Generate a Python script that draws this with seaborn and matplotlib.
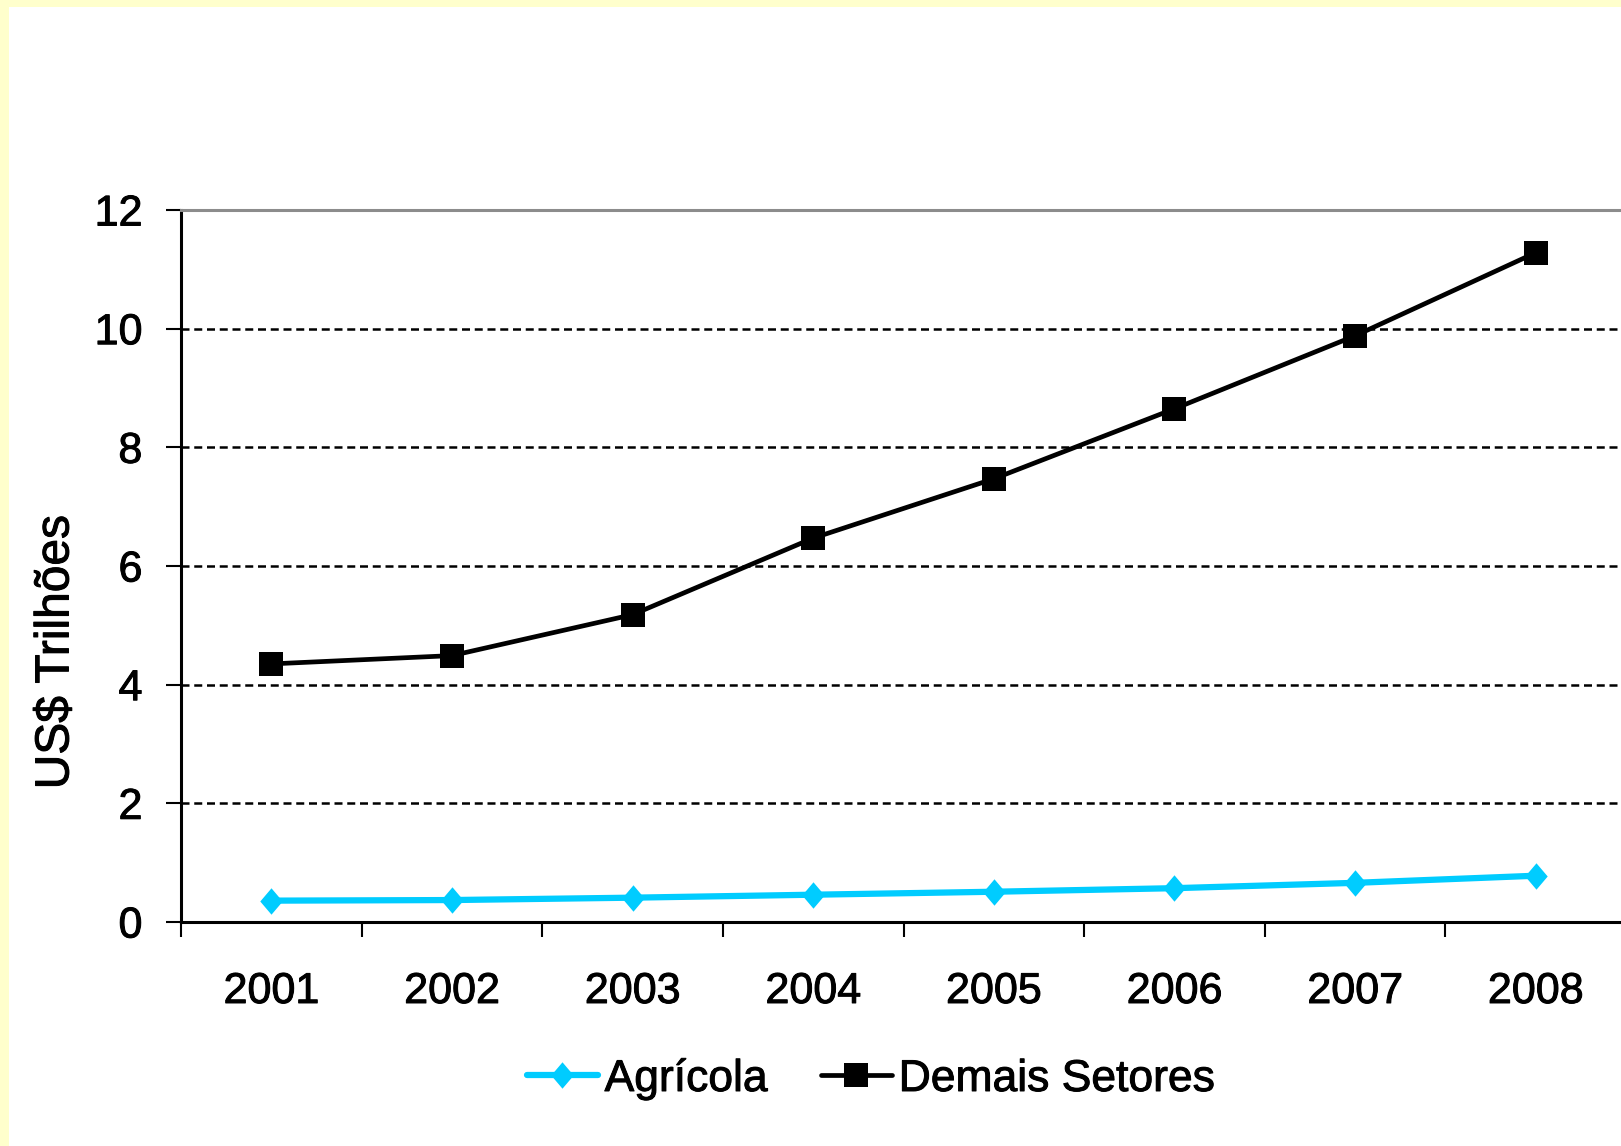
import matplotlib
matplotlib.use('Agg')
import matplotlib.pyplot as plt
import matplotlib.patheffects as pe
import seaborn as sns
import pandas as pd
import numpy as np
from matplotlib.patches import Rectangle
from matplotlib.path import Path

# ---- data ----
years = [2001, 2002, 2003, 2004, 2005, 2006, 2007, 2008]
agricola = [0.36, 0.37, 0.41, 0.46, 0.51, 0.57, 0.66, 0.78]
demais = [4.35, 4.49, 5.18, 6.47, 7.47, 8.65, 9.88, 11.28]
series_names = ['Agrícola', 'Demais Setores']
y_ticks = [0, 2, 4, 6, 8, 10, 12]
y_label = 'US$ Trilhões'

df = pd.DataFrame({
    'Ano': years + years,
    'Valor': agricola + demais,
    'Setor': [series_names[0]] * len(years) + [series_names[1]] * len(years),
})

sns.set_theme(style='white')
plt.rcParams['font.family'] = ['Liberation Sans', 'DejaVu Sans']
plt.rcParams['text.color'] = 'black'

W, H = 1621, 1146
fig = plt.figure(figsize=(W / 100, H / 100), dpi=100, facecolor='#FFFFCC')
fig.add_artist(Rectangle((9 / W, 0), 1, 1 - 7 / H, transform=fig.transFigure,
                         facecolor='white', edgecolor='none', zorder=-10))

ax = fig.add_axes([181 / W, 1 - 922 / H, 1445 / W, 712 / H])
ax.set_facecolor('white')

diamond = Path([(0, 1), (0.85, 0), (0, -1), (-0.85, 0), (0, 1)], closed=True)
styles = {
    'Agrícola': dict(color='#00CCFF', marker=diamond, markersize=19, linewidth=4.5),
    'Demais Setores': dict(color='#000000', marker='s', markersize=17, linewidth=3.4),
}

handles = []
for name in series_names:
    st = styles[name]
    sub = df[df['Setor'] == name]
    sns.lineplot(data=sub, x='Ano', y='Valor', ax=ax, color=st['color'],
                 marker=st['marker'], markersize=st['markersize'],
                 linewidth=st['linewidth'], markeredgecolor=st['color'],
                 markeredgewidth=0, errorbar=None, legend=False, zorder=3)
    handles.append(ax.lines[-1])

# axes limits & ticks
ax.set_xlim(years[0] - 0.5, years[-1] + 0.5)
ax.set_ylim(y_ticks[0], y_ticks[-1])
ax.set_yticks(y_ticks)
ax.set_yticklabels([str(t) for t in y_ticks])
ax.set_xticks(np.arange(years[0] - 0.5, years[-1] + 1.0, 1.0))
ax.set_xticklabels([])
ax.set_xticks(years, minor=True)
ax.set_xticklabels([str(y) for y in years], minor=True)

ax.tick_params(axis='y', which='major', left=True, direction='out', length=10.8,
               width=1.5, color='black', pad=17, labelsize=31, labelcolor='black')
ax.tick_params(axis='x', which='major', bottom=True, direction='out', length=10.8,
               width=1.5, color='black', labelbottom=False)
ax.tick_params(axis='x', which='minor', bottom=True, length=0, pad=36,
               labelsize=31, labelcolor='black')

ax.set_xlabel('')
ax.set_ylabel(y_label, fontsize=34.5, color='black')
ax.yaxis.label.set_va('center')
ax.yaxis.set_label_coords(56 / W, 1 - 652 / H, transform=fig.transFigure)

# grid
ax.yaxis.grid(True, color='black', linestyle=(0, (3.2, 1.9)), linewidth=1.8, zorder=1)
ax.set_axisbelow(True)

# spines
for s in ['left', 'bottom']:
    ax.spines[s].set_color('black')
    ax.spines[s].set_linewidth(2.2)
ax.spines['top'].set_color('#8c8c8c')
ax.spines['top'].set_linewidth(2.2)
ax.spines['right'].set_visible(False)

leg = fig.legend(handles, series_names, loc='center', bbox_to_anchor=(871 / W, 1 - 1079 / H),
                 ncol=2, frameon=False, fontsize=32, handlelength=1.6, handletextpad=0.15,
                 columnspacing=1.2, borderpad=0, borderaxespad=0)

# slightly heavier text strokes, as in the reference
effect = [pe.withStroke(linewidth=0.7, foreground='black')]
texts = (ax.get_yticklabels() + ax.get_xticklabels(minor=True) +
         [ax.yaxis.label] + leg.get_texts())
for t in texts:
    t.set_color('black')
    t.set_path_effects(effect)

fig.savefig('out.png', dpi=100, facecolor=fig.get_facecolor())
